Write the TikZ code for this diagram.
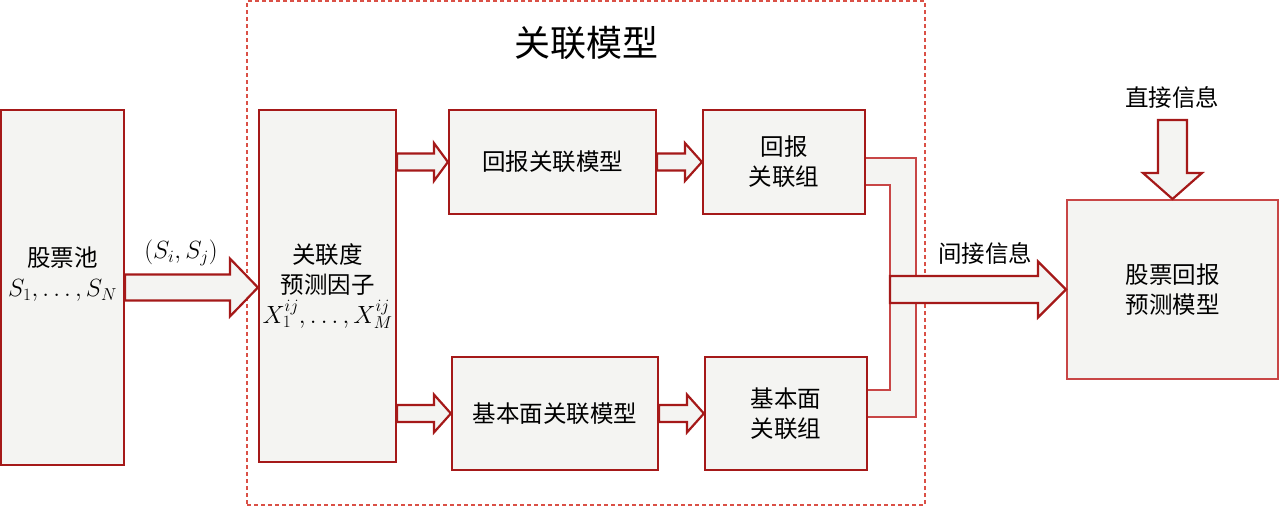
\documentclass[tikz,border=0pt]{standalone}
\usepackage{fontspec}
\newfontfamily\cjk{Noto Sans CJK SC}
\usetikzlibrary{calc}
\definecolor{dred}{RGB}{165,25,25}
\definecolor{lred}{RGB}{200,70,70}
\definecolor{dashred}{RGB}{218,80,70}
\definecolor{boxfill}{RGB}{244,244,242}
\newcommand\harrow[5]{\draw[barrow] let \p1=(#1), \p2=(#2) in (\x1,\y1+#3) -- (\x2-#5,\y1+#3) -- (\x2-#5,\y1+#4) -- (\x2,\y1) -- (\x2-#5,\y1-#4) -- (\x2-#5,\y1-#3) -- (\x1,\y1-#3) -- cycle;}
\newcommand\varrow[5]{\draw[barrow] let \p1=(#1), \p2=(#2) in (\x1-#3,\y1) -- (\x1-#3,\y2+#5) -- (\x1-#4,\y2+#5) -- (\x1,\y2) -- (\x1+#4,\y2+#5) -- (\x1+#3,\y2+#5) -- (\x1+#3,\y1) -- cycle;}
\begin{document}
\begin{tikzpicture}[x=1pt,y=-1pt,
  box/.style={draw=dred, line width=2.2pt, fill=boxfill, rectangle, inner sep=0pt, font=\cjk\fontsize{23.5}{30}\selectfont, align=center},
  txt/.style={font=\cjk\fontsize{23.5}{30}\selectfont, align=center, inner sep=0pt},
  barrow/.style={draw=dred, line width=2.2pt, fill=boxfill},
  pipe/.style={draw=lred, line width=1.6pt, fill=boxfill},
  group/.style={draw=dashred, line width=1.5pt, dash pattern=on 4pt off 3pt}]
\useasboundingbox (0,0) rectangle (1280,507);
% dashed group
\node[group, rectangle, minimum width=678pt, minimum height=504pt, inner sep=0pt] (grp) at (586,253) {};
\node[txt, font=\cjk\fontsize{36}{40}\selectfont] (title) at (586,43) {关联模型};
% boxes
\node[box, minimum width=123pt, minimum height=355pt] (pool) at (62.5,287.5) {};
\node[txt] (pooltxt) at ($(pool.center)+(0,-13)$) {股票池\\$S_1,\ldots,S_N$};
\node[box, minimum width=137pt, minimum height=352pt] (fac) at (327.5,286) {关联度\\预测因子\\$X_1^{ij},\ldots,X_M^{ij}$};
\node[box, minimum width=207pt, minimum height=104pt] (rm) at (552.5,162) {回报关联模型};
\node[box, minimum width=162pt, minimum height=104pt] (rg) at (784,162) {回报\\关联组};
\node[box, minimum width=206pt, minimum height=113pt] (bm) at (555,413.5) {基本面关联模型};
\node[box, minimum width=162pt, minimum height=113pt] (bg) at (786,413.5) {基本面\\关联组};
\node[box, draw=lred, line width=2pt, minimum width=211pt, minimum height=179pt] (pred) at (1172.5,289.5) {股票回报\\预测模型};
% block arrows
\harrow{pool.east}{fac.west |- pool.east}{13pt}{29pt}{28pt}
\node[txt] (sij) at (181,253) {$(S_i,S_j)$};
\harrow{fac.east |- rm.west}{rm.west}{8.5pt}{19pt}{14pt}
\harrow{rm.east}{rg.west}{8.5pt}{19pt}{17pt}
\harrow{fac.east |- bm.west}{bm.west}{8.5pt}{19pt}{17pt}
\harrow{bm.east}{bg.west}{8.5pt}{19pt}{17pt}
% pipes
\draw[pipe] (rg.east |- 0,158) -- (916,158) -- (916,276) -- (890,276) -- (890,185) -- (rg.east |- 0,185);
\draw[pipe] (bg.east |- 0,417) -- (916,417) -- (916,303) -- (890,303) -- (890,390) -- (bg.east |- 0,390);
\coordinate (join) at (890,289.5);
\harrow{join}{pred.west}{13.5pt}{28pt}{28pt}
\node[txt] (indirect) at (985,253) {间接信息};
\coordinate (dtop) at (1172.5,120);
\varrow{dtop}{pred.north}{14.5pt}{29.5pt}{26pt}
\node[txt] (direct) at (1172,97) {直接信息};
\end{tikzpicture}
\end{document}
